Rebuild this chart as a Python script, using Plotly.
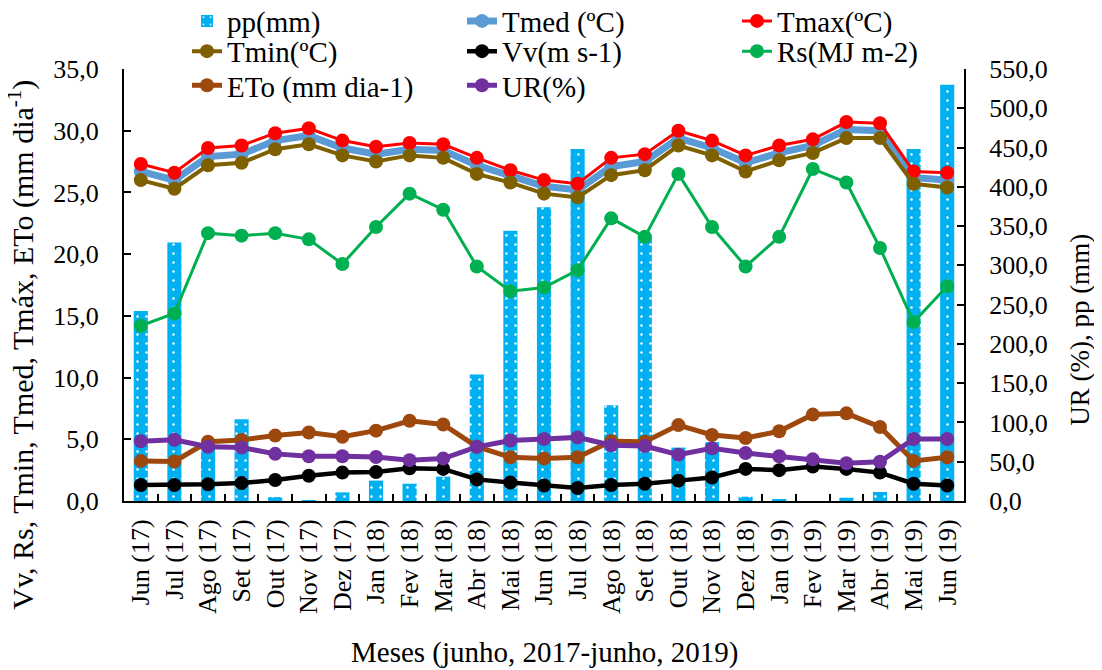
import plotly.graph_objects as go

meses = ["Jun (17)", "Jul (17)", "Ago (17)", "Set (17)", "Out (17)", "Nov (17)", "Dez (17)",
         "Jan (18)", "Fev (18)", "Mar (18)", "Abr (18)", "Mai (18)", "Jun (18)", "Jul (18)",
         "Ago (18)", "Set (18)", "Out (18)", "Nov (18)", "Dez (18)", "Jan (19)", "Fev (19)",
         "Mar (19)", "Abr (19)", "Mai (19)", "Jun (19)"]

pp = [242, 329, 75, 104, 5, 0.5, 11, 26, 22, 31, 161, 344, 374, 448, 122, 340, 68, 75,
      5.5, 2, 0, 4.2, 11.5, 448, 530]
tmed = [26.7, 26.0, 27.9, 28.1, 29.2, 29.6, 28.6, 28.1, 28.5, 28.4, 27.2, 26.3, 25.5, 25.2,
        27.1, 27.5, 29.4, 28.6, 27.4, 28.2, 28.8, 30.1, 30.0, 26.2, 26.0]
tmax = [27.3, 26.6, 28.6, 28.8, 29.8, 30.2, 29.2, 28.7, 29.0, 28.9, 27.8, 26.8, 26.0, 25.7,
        27.8, 28.1, 30.0, 29.2, 28.0, 28.8, 29.3, 30.7, 30.6, 26.7, 26.6]
tmin = [26.0, 25.3, 27.2, 27.4, 28.5, 28.9, 28.0, 27.5, 28.0, 27.8, 26.5, 25.8, 24.9, 24.6,
        26.4, 26.8, 28.8, 28.0, 26.7, 27.6, 28.2, 29.4, 29.4, 25.7, 25.4]
vv = [1.3, 1.3, 1.35, 1.45, 1.7, 2.05, 2.3, 2.35, 2.65, 2.6, 1.75, 1.5, 1.25, 1.05, 1.3,
      1.4, 1.65, 1.9, 2.6, 2.5, 2.8, 2.6, 2.3, 1.4, 1.25]
rs = [14.2, 15.2, 21.7, 21.5, 21.7, 21.2, 19.2, 22.2, 24.9, 23.6, 19.0, 17.0, 17.3, 18.7,
      22.9, 21.4, 26.5, 22.2, 19.0, 21.4, 26.9, 25.8, 20.5, 14.5, 17.4]
eto = [3.25, 3.2, 4.8, 4.95, 5.3, 5.55, 5.2, 5.7, 6.5, 6.2, 4.4, 3.55, 3.45, 3.55, 4.85,
       4.8, 6.15, 5.35, 5.1, 5.65, 7.0, 7.1, 6.0, 3.25, 3.55]
ur = [76, 78, 69, 68, 60, 57, 57, 56, 52, 54, 69, 77, 79, 81, 71, 70, 59, 67, 61, 57, 53,
      48, 50, 79, 79]

FONT = "Liberation Serif"
MS = 14

fig = go.Figure()

fig.add_trace(go.Bar(
    x=meses, y=pp, name="pp(mm)", yaxis="y", width=0.42, legend="legend",
    marker=dict(color="#00B0F0", line=dict(width=0),
                pattern=dict(shape=".", fgcolor="white", bgcolor="#00B0F0",
                             size=9, solidity=0.06, fillmode="replace")),
))

def line(y, name, color, width, leg, axis="y2"):
    fig.add_trace(go.Scatter(
        x=meses, y=y, name=name, yaxis=axis, mode="lines+markers", legend=leg,
        line=dict(color=color, width=width),
        marker=dict(color=color, size=MS, line=dict(width=0)),
    ))

line(tmed, "Tmed (ºC)", "#5B9BD5", 7, "legend")
line(tmax, "Tmax(ºC)", "#FF0000", 3, "legend")
line(tmin, "Tmin(ºC)", "#7F6000", 4, "legend2")
line(vv, "Vv(m s-1)", "#000000", 4.5, "legend2")
line(rs, "Rs(MJ m-2)", "#00B050", 3, "legend2")
line(eto, "ETo (mm dia-1)", "#9E480E", 5, "legend3")
line(ur, "UR(%)", "#7030A0", 5, "legend3", axis="y3")

axis_common = dict(
    showgrid=False, zeroline=False, showline=True, linecolor="black", linewidth=2,
    ticks="inside", ticklen=7, tickwidth=2, tickcolor="black", automargin=False,
    tickfont=dict(family=FONT, size=26, color="black"),
)

def leg(y):
    return dict(orientation="h", x=0.075, y=y, xanchor="left", yanchor="middle",
                entrywidth=230, entrywidthmode="pixels",
                font=dict(family=FONT, size=29, color="black"),
                bgcolor="rgba(0,0,0,0)", traceorder="normal")

fig.update_layout(
    width=1102, height=670,
    margin=dict(l=116, r=146, t=61, b=177, autoexpand=False),
    paper_bgcolor="white", plot_bgcolor="white",
    separators=",.",
    font=dict(family=FONT, size=24, color="black"),
    xaxis=dict(**axis_common, type="category", tickson="boundaries", tickangle=-90,
               ticklabelstandoff=6, range=[-0.5, 24.5], tickmode="array",
               tickvals=meses, ticktext=meses),
    yaxis=dict(**axis_common, side="right", range=[0, 550], dtick=50, tick0=0,
               tickformat=".1f", ticklabelstandoff=18),
    yaxis2=dict(**axis_common, side="left", overlaying="y", range=[0, 35], dtick=5, tick0=0,
                tickformat=".1f", ticklabelstandoff=18),
    yaxis3=dict(overlaying="y", side="right", range=[0, 550], visible=False),
    legend=leg(1.111),
    legend2=leg(1.041),
    legend3=leg(0.962),
    showlegend=True,
    annotations=[
        dict(text="Vv, Rs, Tmin, Tmed, Tmáx, ETo (mm dia<sup>-1</sup>)", textangle=-90,
             xref="paper", yref="paper", x=-0.123, y=0.361, xanchor="center",
             yanchor="middle", showarrow=False, font=dict(family=FONT, size=30)),
        dict(text="UR (%), pp (mm)", textangle=-90,
             xref="paper", yref="paper", x=1.138, y=0.396, xanchor="center",
             yanchor="middle", showarrow=False, font=dict(family=FONT, size=27)),
        dict(text="Meses (junho, 2017-junho, 2019)",
             xref="paper", yref="paper", x=0.5, y=-0.35, xanchor="center",
             yanchor="middle", showarrow=False, font=dict(family=FONT, size=29)),
    ],
)

fig.write_html("out.html")
